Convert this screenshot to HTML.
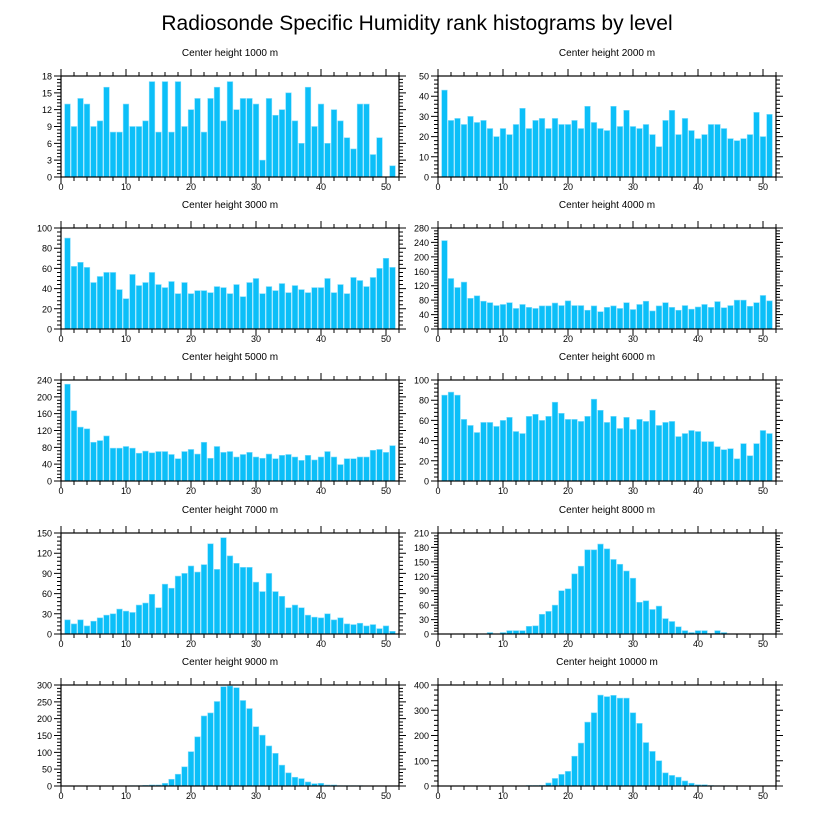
<!DOCTYPE html>
<html><head><meta charset="utf-8"><style>
body{margin:0;background:#fff}
svg{display:block;font-family:"Liberation Sans",sans-serif}
</style></head><body>
<svg id="chart" width="816" height="824" viewBox="0 0 816 824">
<text x="417" y="30" font-size="21" text-anchor="middle">Radiosonde Specific Humidity rank histograms by level</text>
</svg>
<script>
const levels=["1000","2000","3000","4000","5000","6000","7000","8000","9000","10000"];
const yMax=[18,50,100,280,240,100,150,210,300,400];
const yStep=[3,10,20,40,40,20,30,30,50,100];
const xTicks=[0,10,20,30,40,50];
const v1000=[13,9,14,13,9,10,16,8,8,13,9,9,10,17,8,17,8,17,9,12,14,8,14,16,10,17,12,14,14,13,3,14,11,12,15,10,6,16,9,13,6,12,10,7,5,13,13,4,7,0,2];
const v2000=[43,28,29,26,30,27,28,24,20,24,21,26,34,24,28,29,24,29,26,26,28,24,35,27,24,23,35,25,33,25,24,26,21,15,28,33,21,29,23,19,21,26,26,24,19,18,19,21,32,20,31];
const v3000=[90,62,66,61,46,52,56,56,39,30,54,43,46,56,44,41,47,35,46,35,38,38,36,42,41,35,44,32,46,50,35,42,38,45,36,43,39,36,41,41,50,36,44,35,51,48,42,51,60,70,61];
const v4000=[245,140,115,130,85,92,77,73,65,68,73,57,68,60,57,64,64,72,65,78,65,65,52,64,48,60,64,57,73,54,68,77,50,64,73,60,52,65,55,61,68,60,76,59,65,80,80,63,73,93,78];
const v5000=[230,167,128,124,92,96,107,78,78,82,78,66,71,67,70,70,63,53,70,75,64,92,54,82,68,70,57,63,68,57,54,64,53,61,63,57,49,61,50,57,70,57,39,53,53,57,57,73,75,68,84];
const v6000=[85,88,85,61,55,48,58,58,54,60,63,49,47,64,66,60,64,78,67,61,61,59,64,81,70,58,64,52,63,51,61,59,70,55,58,59,44,47,50,49,39,39,34,31,32,22,37,25,37,50,47];
const v7000=[21,15,21,12,19,24,28,30,37,34,32,43,46,59,39,74,68,86,90,101,92,103,134,96,143,116,105,99,99,77,63,90,63,56,39,43,39,28,25,24,30,21,24,15,14,16,12,14,8,12,4];
const v8000=[0,0,0,0,0,0,0,3,0,3,7,7,7,16,17,41,47,60,90,94,125,141,175,175,187,177,155,145,131,116,66,69,51,58,32,26,15,7,3,7,7,1,7,3,0,0,0,0,0,0,0];
const v9000=[0,0,0,0,0,0,0,0,0,0,1,1,2,3,3,8,20,35,57,102,146,208,217,251,295,297,292,254,230,176,151,119,97,62,39,26,22,12,7,8,3,3,1,1,1,1,0,0,0,0,0];
const v10000=[0,0,0,0,0,0,0,0,0,0,0,0,0,2,2,3,12,30,46,58,118,170,253,290,360,354,359,348,348,290,248,172,137,100,52,42,35,20,11,5,5,2,1,1,1,0,0,0,0,0,0];
const series=[v1000,v2000,v3000,v4000,v5000,v6000,v7000,v8000,v9000,v10000];

const NS="http://www.w3.org/2000/svg";
const svg=document.getElementById('chart');
const colX=[61,438], rowY=[76,228,380,533,685], PW=338, PH=101, XMAX=52;
function mk(tag,attrs,parent){const e=document.createElementNS(NS,tag);for(const k in attrs)e.setAttribute(k,attrs[k]);parent.appendChild(e);return e;}
series.forEach((vals,i)=>{
  const x0=colX[i%2], y0=rowY[Math.floor(i/2)];
  const sx=v=>x0+v/XMAX*PW, sy=v=>y0+PH-v/yMax[i]*PH;
  const g=mk('g',{},svg);
  
  
  const t=mk('text',{x:x0+PW/2,y:y0-20,'font-size':'10','text-anchor':'middle'},g);
  
  
  t.textContent='Center height '+levels[i]+' m';
  vals.forEach((v,k)=>{
    if(v<=0)return;
    const w=0.86*PW/XMAX;
    const r=mk('rect',{x:sx(k+1)-w/2,y:sy(v),width:w,height:sy(0)-sy(v),fill:'#0cbff8',stroke:'#7fdcfc','stroke-width':'0.6'},g);
    
    
  });
  const b=mk('rect',{x:x0,y:y0,width:PW,height:PH,fill:'none',stroke:'#000','stroke-width':'1.2'},g);
  
  
  let d='';
  for(let u=0;u<=XMAX;u+=2){const L=(u%10===0)?7:4;const x=sx(u);d+=`M${x} ${y0+PH}v${L}M${x} ${y0}v${-L}`;}
  const ymn=yStep[i]/5;
  for(let j=0;j*ymn<=yMax[i]+1e-9;j++){const v=j*ymn;const L=(j%5===0)?7:4;const y=sy(v);d+=`M${x0} ${y}h${-L}M${x0+PW} ${y}h${L}`;}
  mk('path',{d:d,stroke:'#000','stroke-width':'1',fill:'none'},g);
  xTicks.forEach(v=>{
    const tx=mk('text',{x:sx(v),y:y0+PH+13,'font-size':'9','text-anchor':'middle'},g);
    
    
    tx.textContent=v;
  });
  for(let v=0;v<=yMax[i]+1e-9;v+=yStep[i]){
    const ty=mk('text',{x:x0-9,y:sy(v)+3.5,'font-size':'9','text-anchor':'end'},g);
    
    
    ty.textContent=v;
  }
});
</script>
</body></html>
